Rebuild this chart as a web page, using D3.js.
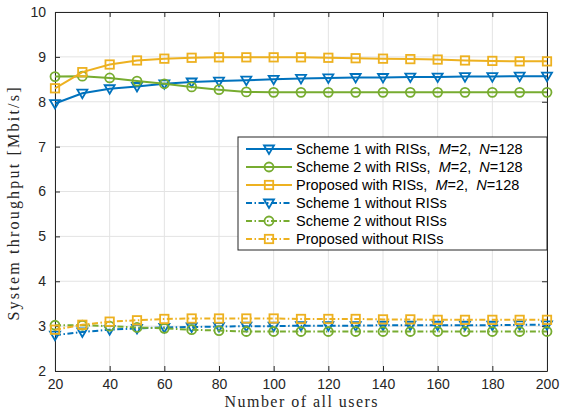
<!DOCTYPE html>
<html>
<head>
<meta charset="utf-8">
<script src="https://cdn.jsdelivr.net/npm/d3@7"></script>
<style>
  body { margin: 0; background: #fff; }
  svg { display: block; }
  .tick text { font-family: "Liberation Sans", Arial, sans-serif; font-size: 14px; fill: #262626; }
</style>
</head>
<body>
<svg width="561" height="414"></svg>
<script>
// number of users (x values)
var users = [20, 30, 40, 50, 60, 70, 80, 90, 100, 110, 120, 130, 140, 150, 160, 170, 180, 190, 200];

// throughput with RISs
var scheme1Ris = [7.96, 8.19, 8.29, 8.34, 8.40, 8.44, 8.46, 8.48, 8.50, 8.52, 8.53, 8.54, 8.54, 8.55, 8.55, 8.56, 8.56, 8.57, 8.57];
var scheme2Ris = [8.56, 8.57, 8.53, 8.46, 8.40, 8.33, 8.27, 8.22, 8.21, 8.21, 8.21, 8.21, 8.21, 8.21, 8.21, 8.21, 8.21, 8.21, 8.21];
var proposedRis = [8.30, 8.66, 8.83, 8.92, 8.96, 8.98, 8.99, 8.99, 8.99, 8.99, 8.98, 8.97, 8.96, 8.95, 8.94, 8.92, 8.91, 8.90, 8.90];

// throughput without RISs
var scheme1NoRis = [2.80, 2.87, 2.92, 2.95, 2.97, 2.98, 2.99, 3.00, 3.00, 3.01, 3.01, 3.01, 3.02, 3.02, 3.02, 3.02, 3.02, 3.03, 3.03];
var scheme2NoRis = [3.02, 3.02, 3.00, 2.97, 2.95, 2.92, 2.90, 2.88, 2.88, 2.88, 2.88, 2.88, 2.88, 2.88, 2.88, 2.88, 2.88, 2.88, 2.88];
var proposedNoRis = [2.92, 3.03, 3.10, 3.13, 3.16, 3.17, 3.17, 3.17, 3.17, 3.16, 3.16, 3.16, 3.15, 3.15, 3.14, 3.14, 3.14, 3.14, 3.14];

var xTicks = [20, 40, 60, 80, 100, 120, 140, 160, 180, 200];
var yTicks = [2, 3, 4, 5, 6, 7, 8, 9, 10];

var series = [
  { name: ["Scheme 1 with RISs,  ", "M", "=2,  ", "N", "=128"], values: scheme1Ris, color: "#0072BD", marker: "tri", dash: null },
  { name: ["Scheme 2 with RISs,  ", "M", "=2,  ", "N", "=128"], values: scheme2Ris, color: "#77AC30", marker: "circle", dash: null },
  { name: ["Proposed with RISs,  ", "M", "=2,  ", "N", "=128"], values: proposedRis, color: "#EDB120", marker: "square", dash: null },
  { name: ["Scheme 1 without RISs"], values: scheme1NoRis, color: "#0072BD", marker: "tri", dash: "6,2.5,1.5,2.5" },
  { name: ["Scheme 2 without RISs"], values: scheme2NoRis, color: "#77AC30", marker: "circle", dash: "6,2.5,1.5,2.5" },
  { name: ["Proposed without RISs"], values: proposedNoRis, color: "#EDB120", marker: "square", dash: "6,2.5,1.5,2.5" }
];

var margin = { left: 55, right: 14, top: 12, bottom: 43 };
var svg = d3.select("svg");
var W = 561, H = 414;
var innerW = W - margin.left - margin.right;
var innerH = H - margin.top - margin.bottom;

var x = d3.scaleLinear().domain([20, 200]).range([0, innerW]);
var y = d3.scaleLinear().domain([2, 10]).range([innerH, 0]);

var g = svg.append("g").attr("transform", "translate(" + margin.left + "," + margin.top + ")");

// grid
g.append("g").selectAll("line").data(xTicks).enter().append("line")
  .attr("x1", d => x(d)).attr("x2", d => x(d)).attr("y1", 0).attr("y2", innerH)
  .attr("stroke", "#e3e3e3").attr("stroke-width", 1);
g.append("g").selectAll("line").data(yTicks).enter().append("line")
  .attr("y1", d => y(d)).attr("y2", d => y(d)).attr("x1", 0).attr("x2", innerW)
  .attr("stroke", "#e3e3e3").attr("stroke-width", 1);

// axes, ticks pointing inward like MATLAB
function styleAxis(sel) {
  sel.select(".domain").attr("stroke", "#262626");
  sel.selectAll(".tick line").attr("stroke", "#262626");
}
g.append("g").attr("transform", "translate(0," + innerH + ")")
  .call(d3.axisBottom(x).tickValues(xTicks).tickSizeInner(-5).tickSizeOuter(0).tickPadding(8))
  .call(styleAxis);
g.append("g")
  .call(d3.axisLeft(y).tickValues(yTicks).tickSizeInner(-5).tickSizeOuter(0).tickPadding(9))
  .call(styleAxis);
g.append("g")
  .call(d3.axisTop(x).tickValues(xTicks).tickSizeInner(-5).tickSizeOuter(0).tickFormat(""))
  .call(styleAxis);
g.append("g").attr("transform", "translate(" + innerW + ",0)")
  .call(d3.axisRight(y).tickValues(yTicks).tickSizeInner(-5).tickSizeOuter(0).tickFormat(""))
  .call(styleAxis);

// marker drawing
function drawMarker(sel, type, color) {
  if (type === "circle") {
    sel.append("circle").attr("r", 4.5)
      .attr("fill", "none").attr("stroke", color).attr("stroke-width", 1.8);
  } else if (type === "square") {
    sel.append("rect").attr("x", -4.2).attr("y", -4.2).attr("width", 8.4).attr("height", 8.4)
      .attr("fill", "none").attr("stroke", color).attr("stroke-width", 1.8);
  } else {
    sel.append("path").attr("d", "M-5,-3.5L5,-3.5L0,5Z")
      .attr("fill", "none").attr("stroke", color).attr("stroke-width", 1.8);
  }
}

var line = d3.line().x((d, i) => x(users[i])).y(d => y(d));

series.forEach(function (s) {
  g.append("path").datum(s.values)
    .attr("d", line)
    .attr("fill", "none")
    .attr("stroke", s.color)
    .attr("stroke-width", 2)
    .attr("stroke-dasharray", s.dash);
  g.append("g").selectAll("g").data(s.values).enter().append("g")
    .attr("transform", (d, i) => "translate(" + x(users[i]) + "," + y(d) + ")")
    .each(function () { drawMarker(d3.select(this), s.marker, s.color); });
});

// legend
var lg = svg.append("g").attr("transform", "translate(238,137)");
lg.append("rect").attr("width", 309).attr("height", 113)
  .attr("fill", "#fff").attr("stroke", "#262626").attr("stroke-width", 1);
series.forEach(function (s, i) {
  var ly = 12 + i * 18;
  var row = lg.append("g").attr("transform", "translate(0," + ly + ")");
  row.append("line").attr("x1", 8).attr("x2", 54).attr("y1", 0).attr("y2", 0)
    .attr("stroke", s.color).attr("stroke-width", 2).attr("stroke-dasharray", s.dash);
  var m = row.append("g").attr("transform", "translate(31,0)");
  drawMarker(m, s.marker, s.color);
  var t = row.append("text").attr("x", 58).attr("y", 5)
    .style("font-family", "'Liberation Sans', Arial, sans-serif")
    .style("font-size", "14.5px").style("white-space", "pre").attr("fill", "#000");
  s.name.forEach(function (part) {
    t.append("tspan").text(part)
      .style("font-style", (part === "M" || part === "N") ? "italic" : "normal");
  });
});

// axis labels
svg.append("text")
  .attr("x", 301).attr("y", 407)
  .attr("text-anchor", "middle")
  .attr("textLength", 153).attr("lengthAdjust", "spacing")
  .style("font-family", "'Liberation Serif', 'DejaVu Serif', serif")
  .style("font-size", "16px").attr("fill", "#262626")
  .text("Number of all users");
svg.append("text")
  .attr("transform", "translate(19," + 204 + ") rotate(-90)")
  .attr("text-anchor", "middle")
  .attr("textLength", 233).attr("lengthAdjust", "spacing")
  .style("font-family", "'Liberation Serif', 'DejaVu Serif', serif")
  .style("font-size", "16px").attr("fill", "#262626")
  .text("System throughput [Mbit/s]");
</script>
</body>
</html>
